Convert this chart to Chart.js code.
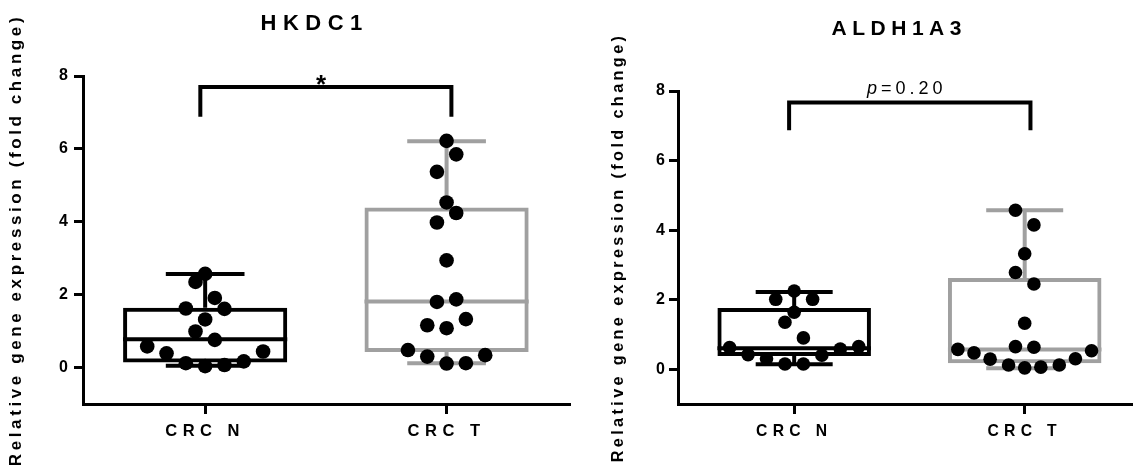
<!DOCTYPE html>
<html>
<head>
<meta charset="utf-8">
<script src="https://cdn.jsdelivr.net/npm/chart.js@4.4.1/dist/chart.umd.min.js"></script>
<style>
  html, body { margin: 0; padding: 0; background: #fff; }
  #wrap { position: relative; width: 1138px; height: 465px; overflow: hidden; }
  #left { position: absolute; left: 0; top: 0; }
  #right { position: absolute; left: 560px; top: 0; }
</style>
</head>
<body>
<div id="wrap">
  <canvas id="left" width="577" height="465"></canvas>
  <canvas id="right" width="578" height="465"></canvas>
</div>
<script>
var groups = ['CRC N', 'CRC T'];
var yTicks = [0, 2, 4, 6, 8];

// HKDC1 box stats (CRC N, CRC T)
var hkdc1Min = [0.05, 0.12];
var hkdc1Q1 = [0.14, 0.43];
var hkdc1Median = [0.78, 1.81];
var hkdc1Q3 = [1.64, 4.39];
var hkdc1Max = [2.57, 6.21];
// single samples, with their sideways shift in the swarm
var hkdc1N = [2.57, 2.35, 1.91, 1.62, 1.61, 1.32, 0.99, 0.76, 0.58, 0.39, 0.44, 0.12, 0.04, 0.07, 0.17];
var hkdc1NShift = [0, -0.04, 0.04, -0.08, 0.08, 0, -0.04, 0.04, -0.24, -0.16, 0.24, -0.08, 0, 0.08, 0.16];
var hkdc1T = [6.22, 5.85, 5.37, 4.53, 4.24, 3.98, 2.94, 1.80, 1.87, 1.16, 1.08, 1.33, 0.48, 0.30, 0.11, 0.12, 0.34];
var hkdc1TShift = [0, 0.04, -0.04, 0, 0.04, -0.04, 0, -0.04, 0.04, -0.08, 0, 0.08, -0.16, -0.08, 0, 0.08, 0.16];

// ALDH1A3 box stats (CRC N, CRC T)
var aldh1a3Min = [0.14, 0.03];
var aldh1a3Q1 = [0.38, 0.17];
var aldh1a3Median = [0.60, 0.57];
var aldh1a3Q3 = [1.76, 2.62];
var aldh1a3Max = [2.22, 4.57];
var aldh1a3N = [2.25, 2.01, 2.01, 1.64, 1.35, 0.90, 0.62, 0.58, 0.65, 0.42, 0.40, 0.30, 0.15, 0.15];
var aldh1a3NShift = [0, -0.08, 0.08, 0, -0.04, 0.04, -0.28, 0.20, 0.28, -0.20, 0.12, -0.12, -0.04, 0.04];
var aldh1a3T = [4.57, 4.15, 3.32, 2.78, 2.45, 1.32, 0.65, 0.63, 0.57, 0.47, 0.53, 0.29, 0.30, 0.12, 0.04, 0.06, 0.12];
var aldh1a3TShift = [-0.04, 0.04, 0, -0.04, 0.04, 0, -0.04, 0.04, -0.29, -0.22, 0.29, -0.15, 0.22, -0.07, 0, 0.07, 0.15];

var FONT = "'Liberation Sans', Arial, sans-serif";
var GREY = '#a0a0a0';
Chart.defaults.font.family = FONT;
Chart.defaults.color = '#000';

// draw text one glyph at a time so the wide tracking of the original can be kept
function drawSpaced(ctx, parts, cx, y, spacing) {
    var total = 0, i, j, ch;
    for (i = 0; i < parts.length; i++) {
        ctx.font = parts[i].font;
        for (j = 0; j < parts[i].text.length; j++) {
            total += ctx.measureText(parts[i].text[j]).width + spacing;
        }
    }
    total -= spacing;
    var x = cx - total / 2;
    ctx.textAlign = 'left';
    for (i = 0; i < parts.length; i++) {
        ctx.font = parts[i].font;
        for (j = 0; j < parts[i].text.length; j++) {
            ch = parts[i].text[j];
            ctx.fillText(ch, x, y);
            x += ctx.measureText(ch).width + spacing;
        }
    }
}

function spaceText(scale, method, px) {
    if (scale['_spaced_' + method]) return;
    var orig = scale[method];
    scale[method] = function () {
        var c = this.ctx, old = c.letterSpacing;
        c.letterSpacing = px + 'px';
        orig.apply(this, arguments);
        c.letterSpacing = old;
    };
    scale['_spaced_' + method] = true;
}

function decor(p) {
    return {
        id: 'decor',
        beforeDraw: function (chart) {
            spaceText(chart.scales.x, 'drawLabels', p.tickSpacing);
            spaceText(chart.scales.y, 'drawTitle', p.yTitleSpacing);
        },
        afterDraw: function (chart) {
            var ctx = chart.ctx, xs = chart.scales.x, ys = chart.scales.y;
            ctx.save();
            ctx.fillStyle = '#000';
            ctx.textBaseline = 'middle';
            drawSpaced(ctx, [{text: p.title, font: p.titleFont}], xs.getPixelForValue(p.titleX), p.titleY, p.titleSpacing);
            ctx.textBaseline = 'alphabetic';
            var top = ys.getPixelForValue(p.bracketTop);
            drawSpaced(ctx, p.note, xs.getPixelForValue(p.noteX), top + p.noteDy, p.noteSpacing);
            ctx.restore();
        }
    };
}

function makePanel(id, p) {
    var colors = ['#000', GREY];

    function swarm(vals, shift, g) {
        return vals.map(function (v, i) { return {x: g + 1 + shift[i], y: v}; });
    }

    function whiskers(g) {
        var c = g + 1, d = [];
        function seg(x1, y1, x2, y2) { d.push({x: x1, y: y1}, {x: x2, y: y2}, {x: x2, y: null}); }
        seg(c, p.q3[g], c, p.max[g]);
        seg(c - p.capHalf, p.max[g], c + p.capHalf, p.max[g]);
        seg(c, p.q1[g], c, p.min[g]);
        seg(c - p.capHalf, p.min[g], c + p.capHalf, p.min[g]);
        seg(c - p.boxHalf, p.median[g], c + p.boxHalf, p.median[g]);
        return d;
    }

    var boxes = groups.map(function (name, g) { return {x: g + 1, y: [p.q1[g], p.q3[g]]}; });

    var lineStyle = function (color, data, width) {
        return {
            type: 'line', data: data, borderColor: color, borderWidth: width,
            pointRadius: 0, fill: false, tension: 0, borderCapStyle: 'butt',
            borderJoinStyle: 'miter', spanGaps: false, order: 1
        };
    };

    var bracket = [
        {x: p.bracketX[0], y: p.bracketLow}, {x: p.bracketX[0], y: p.bracketTop},
        {x: p.bracketX[1], y: p.bracketTop}, {x: p.bracketX[1], y: p.bracketLow}
    ];

    var ctx = document.getElementById(id).getContext('2d');
    return new Chart(ctx, {
        type: 'scatter',
        data: {
            datasets: [
                {
                    type: 'scatter', label: groups[0], data: swarm(p.nVals, p.nShift, 0),
                    pointRadius: p.dot, pointHoverRadius: p.dot, pointBackgroundColor: '#000',
                    pointBorderWidth: 0, order: 0
                },
                {
                    type: 'scatter', label: groups[1], data: swarm(p.tVals, p.tShift, 1),
                    pointRadius: p.dot, pointHoverRadius: p.dot, pointBackgroundColor: '#000',
                    pointBorderWidth: 0, order: 0
                },
                lineStyle(colors[0], whiskers(0), p.lw),
                lineStyle(colors[1], whiskers(1), p.lw),
                lineStyle('#000', bracket, 4),
                {
                    type: 'bar', label: 'box', data: boxes,
                    backgroundColor: 'rgba(0,0,0,0)', borderColor: colors,
                    borderWidth: p.lw, borderSkipped: false,
                    barPercentage: p.boxHalf * 2, categoryPercentage: 1, order: 2
                }
            ]
        },
        options: {
            responsive: false,
            animation: false,
            events: [],
            layout: { padding: { top: p.padTop, left: 0, right: 0, bottom: 0 } },
            plugins: { legend: { display: false }, tooltip: { enabled: false } },
            scales: {
                x: {
                    type: 'linear', min: p.xMin, max: p.xMax, offset: false,
                    afterBuildTicks: function (s) { s.ticks = groups.map(function (g, i) { return {value: i + 1}; }); },
                    afterFit: function (s) { s.height = 61; },
                    ticks: {
                        autoSkip: false, maxRotation: 0, padding: p.xTickPad, color: '#000',
                        font: { size: p.xTickSize, weight: 'bold' },
                        callback: function (v, i) { return groups[i]; }
                    },
                    grid: { offset: false, drawOnChartArea: false, drawTicks: true, tickLength: 10, tickWidth: 3, tickColor: '#000', lineWidth: 3, color: '#000' },
                    border: { display: true, color: '#000', width: 3 }
                },
                y: {
                    type: 'linear', min: -1, max: 8, beginAtZero: false,
                    afterBuildTicks: function (s) { s.ticks = yTicks.map(function (v) { return {value: v}; }); },
                    afterFit: function (s) { s.width = p.yAxisWidth; },
                    ticks: { padding: p.yTickPad, color: '#000', font: { size: 16, weight: 'bold' } },
                    grid: { drawOnChartArea: false, drawTicks: true, tickLength: 9, tickWidth: 3, tickColor: '#000', lineWidth: 3, color: '#000' },
                    border: { display: true, color: '#000', width: 3 },
                    title: {
                        display: true, text: 'Relative gene expression (fold change)', color: '#000',
                        font: { size: p.yTitleSize, weight: 'bold' },
                        padding: { top: p.yTitlePad, bottom: 0 }
                    }
                }
            }
        },
        plugins: [decor(p)]
    });
}

makePanel('left', {
    min: hkdc1Min, q1: hkdc1Q1, median: hkdc1Median, q3: hkdc1Q3, max: hkdc1Max,
    nVals: hkdc1N, nShift: hkdc1NShift, tVals: hkdc1T, tShift: hkdc1TShift,
    xMin: 0.494, xMax: 2.51, yAxisWidth: 83, padTop: 76,
    yTitleSize: 17, yTitlePad: 5.8, yTitleSpacing: 3.6,
    xTickSize: 16.5, tickSpacing: 5.5, xTickPad: 8, yTickPad: 6,
    dot: 7.3, lw: 4, boxHalf: 0.34, capHalf: 0.163,
    bracketX: [0.98, 2.02], bracketLow: 6.88, bracketTop: 7.7,
    title: 'HKDC1', titleFont: 'bold 22px ' + FONT, titleX: 1.44, titleY: 23.5, titleSpacing: 6.5,
    note: [{text: '*', font: 'bold 26px ' + FONT}], noteX: 1.48, noteDy: 6, noteSpacing: 0
});

makePanel('right', {
    min: aldh1a3Min, q1: aldh1a3Q1, median: aldh1a3Median, q3: aldh1a3Q3, max: aldh1a3Max,
    nVals: aldh1a3N, nShift: aldh1a3NShift, tVals: aldh1a3T, tShift: aldh1a3TShift,
    xMin: 0.496, xMax: 2.462, yAxisWidth: 118, padTop: 91,
    yTitleSize: 16.2, yTitlePad: 49.3, yTitleSpacing: 3.4,
    xTickSize: 15.7, tickSpacing: 5.3, xTickPad: 8, yTickPad: 4,
    dot: 6.8, lw: 4, boxHalf: 0.333, capHalf: 0.167,
    bracketX: [0.978, 2.025], bracketLow: 6.87, bracketTop: 7.67,
    title: 'ALDH1A3', titleFont: 'bold 21px ' + FONT, titleX: 1.444, titleY: 29.5, titleSpacing: 5.5,
    note: [{text: 'p', font: 'italic 18px ' + FONT}, {text: '=0.20', font: '18px ' + FONT}], noteX: 1.48, noteDy: -8, noteSpacing: 4
});
</script>
</body>
</html>
